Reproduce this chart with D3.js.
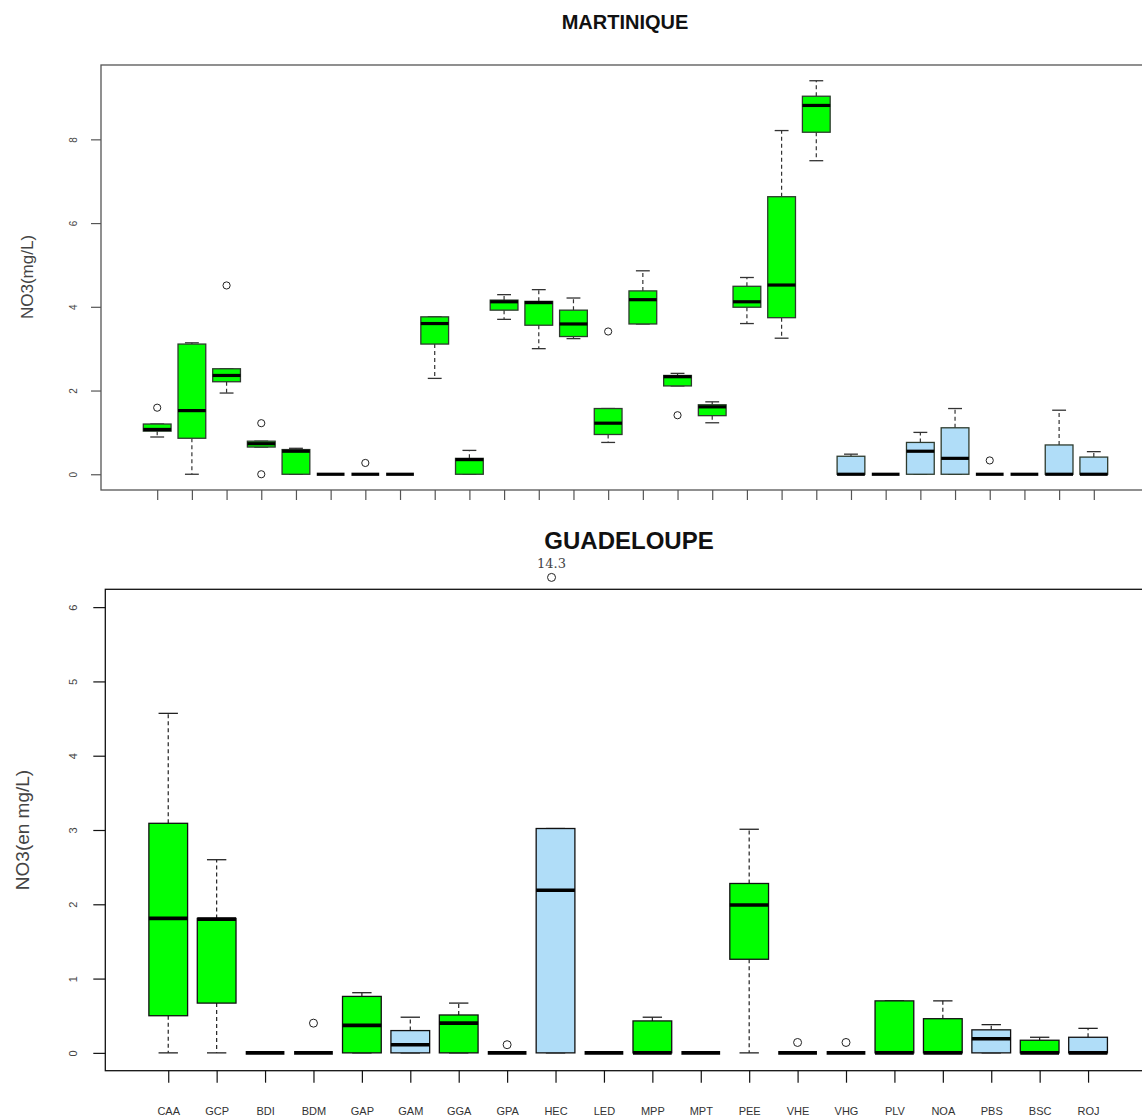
<!DOCTYPE html>
<html>
<head>
<meta charset="utf-8">
<script src="https://cdn.jsdelivr.net/npm/d3@7"></script>
<style>
  html, body { margin: 0; padding: 0; background: #fff; }
  svg { display: block; font-family: "Liberation Sans", Arial, sans-serif; }
</style>
</head>
<body>
<svg id="chart" width="1142" height="1118"></svg>
<script>
// ---------- MARTINIQUE (28 unlabeled stations) ----------
const mqGroup = [1,1,1,1,1,1,1,1,1,1,1,1,1,1,1,1,1,1,1,1,2,2,2,2,2,2,2,2];
const mqLow   = [0.89,0.00,1.94,0.65,0.00,0,0,0,2.29,0.00,3.70,3.00,3.24,0.76,3.59,2.11,1.23,3.60,3.25,7.49,0,0,0,0,0,0,0,0];
const mqQ1    = [1.03,0.86,2.21,0.65,0.00,0,0,0,3.11,0.00,3.92,3.56,3.29,0.95,3.59,2.11,1.40,3.99,3.74,8.17,0,0,0,0,0,0,0,0];
const mqMed   = [1.07,1.52,2.36,0.73,0.55,0,0,0,3.60,0.35,4.12,4.10,3.59,1.22,4.17,2.33,1.61,4.12,4.52,8.81,0,0,0.55,0.38,0,0,0,0];
const mqQ3    = [1.20,3.11,2.52,0.79,0.59,0,0,0,3.76,0.38,4.16,4.13,3.92,1.57,4.38,2.36,1.66,4.49,6.63,9.03,0.43,0,0.76,1.11,0,0,0.70,0.41];
const mqHigh  = [1.20,3.14,2.52,0.79,0.62,0,0,0,3.76,0.57,4.29,4.41,4.21,1.57,4.86,2.41,1.73,4.70,8.21,9.40,0.48,0,1.00,1.57,0,0,1.53,0.54];
const mqOut   = [[1.59],[],[4.51],[1.22,0],[],[],[0.27],[],[],[],[],[],[],[3.41],[],[1.41],[],[],[],[],[],[],[],[],[0.33],[],[],[]];
const mqYTicks = [0,2,4,6,8];

// ---------- GUADELOUPE (20 stations) ----------
const gpCategories = ["CAA","GCP","BDI","BDM","GAP","GAM","GGA","GPA","HEC","LED","MPP","MPT","PEE","VHE","VHG","PLV","NOA","PBS","BSC","ROJ"];
const gpGroup = [1,1,1,1,1,2,1,1,2,1,1,1,1,1,1,1,1,2,1,2];
const gpLow   = [0,0,0,0,0,0,0,0,0,0,0,0,0,0,0,0,0,0,0,0];
const gpQ1    = [0.50,0.67,0,0,0,0,0,0,0,0,0,0,1.26,0,0,0,0,0,0,0];
const gpMed   = [1.81,1.80,0,0,0.37,0.11,0.40,0,2.19,0,0,0,1.99,0,0,0,0,0.19,0,0];
const gpQ3    = [3.09,1.81,0,0,0.76,0.30,0.51,0,3.02,0,0.43,0,2.28,0,0,0.70,0.46,0.31,0.17,0.21];
const gpHigh  = [4.57,2.60,0,0,0.81,0.48,0.67,0,3.02,0,0.48,0,3.01,0,0,0.70,0.70,0.38,0.21,0.33];
const gpOut   = [[],[],[],[0.40],[],[],[],[0.11],[],[],[],[],[],[0.14],[0.14],[],[],[],[],[]];
const gpYLim  = [0, 6];
const gpYTicks = [0,1,2,3,4,5,6];
// off-scale outlier of HEC, drawn at the top of the panel with its value
const gpBigOutlierCat = "HEC";
const gpBigOutlierValue = 14.3;
const gpBigOutlierShownAt = 6.4;

const groupColor = {1: "#00ff00", 2: "#b0ddf8"};

const svg = d3.select("#chart");

function rExtend(lo, hi) { const p = (hi - lo) * 0.04; return [lo - p, hi + p]; }

function drawPanel(cfg) {
  const n = cfg.low.length;
  const g = svg.append("g");
  const x = d3.scaleLinear().domain(rExtend(0.5, n + 0.5)).range([cfg.left, cfg.right]);
  const y = d3.scaleLinear().domain(rExtend(cfg.yDomain[0], cfg.yDomain[1])).range([cfg.bottom, cfg.top]);
  const step = x(2) - x(1);
  const bw = step * 0.8;
  const idx = d3.range(n);

  // boxes
  const box = g.selectAll("g.box").data(idx).join("g").attr("class", "box");
  // whiskers (dashed)
  box.append("line")
    .attr("x1", i => x(i + 1)).attr("x2", i => x(i + 1))
    .attr("y1", i => y(cfg.q3[i])).attr("y2", i => y(cfg.high[i]))
    .attr("stroke", cfg.lineColor).attr("stroke-width", 1.2).attr("stroke-dasharray", "4,3")
    .style("display", i => cfg.high[i] > cfg.q3[i] ? null : "none");
  box.append("line")
    .attr("x1", i => x(i + 1)).attr("x2", i => x(i + 1))
    .attr("y1", i => y(cfg.q1[i])).attr("y2", i => y(cfg.low[i]))
    .attr("stroke", cfg.lineColor).attr("stroke-width", 1.2).attr("stroke-dasharray", "4,3")
    .style("display", i => cfg.low[i] < cfg.q1[i] ? null : "none");
  // staples
  box.append("line")
    .attr("x1", i => x(i + 1) - bw / 4).attr("x2", i => x(i + 1) + bw / 4)
    .attr("y1", i => y(cfg.high[i])).attr("y2", i => y(cfg.high[i]))
    .attr("stroke", cfg.lineColor).attr("stroke-width", 1.3);
  box.append("line")
    .attr("x1", i => x(i + 1) - bw / 4).attr("x2", i => x(i + 1) + bw / 4)
    .attr("y1", i => y(cfg.low[i])).attr("y2", i => y(cfg.low[i]))
    .attr("stroke", cfg.lineColor).attr("stroke-width", 1.3);
  // box rect
  box.append("rect")
    .attr("x", i => x(i + 1) - bw / 2).attr("width", bw)
    .attr("y", i => y(cfg.q3[i])).attr("height", i => y(cfg.q1[i]) - y(cfg.q3[i]))
    .attr("fill", i => groupColor[cfg.group[i]])
    .attr("stroke", cfg.boxStroke).attr("stroke-width", 1.3);
  // median
  box.append("line")
    .attr("x1", i => x(i + 1) - bw / 2).attr("x2", i => x(i + 1) + bw / 2)
    .attr("y1", i => y(cfg.med[i])).attr("y2", i => y(cfg.med[i]))
    .attr("stroke", "#000").attr("stroke-width", cfg.medWidth);
  // outliers
  const outs = [];
  cfg.out.forEach((arr, i) => arr.forEach(v => outs.push({i, v})));
  g.selectAll("circle.out").data(outs).join("circle").attr("class", "out")
    .attr("cx", d => x(d.i + 1)).attr("cy", d => y(d.v)).attr("r", cfg.outR)
    .attr("fill", "#fff").attr("stroke", "#222").attr("stroke-width", 1);

  // frame
  g.append("rect")
    .attr("x", cfg.left).attr("y", cfg.top)
    .attr("width", cfg.right - cfg.left).attr("height", cfg.bottom - cfg.top)
    .attr("fill", "none").attr("stroke", cfg.frameColor).attr("stroke-width", 1.3);

  // y axis
  const ya = g.append("g").attr("transform", `translate(${cfg.left},0)`)
    .call(d3.axisLeft(y).tickValues(cfg.yTicks).tickSize(cfg.tickLen).tickFormat(d3.format("d")));
  ya.select(".domain").remove();
  ya.selectAll(".tick line").attr("stroke", cfg.frameColor).attr("stroke-width", 1.2);
  ya.selectAll(".tick text")
    .attr("x", 0).attr("dy", 0).attr("text-anchor", "middle")
    .attr("transform", `translate(${cfg.yLabelOffset},0) rotate(-90)`)
    .attr("fill", "#444").style("font-size", cfg.yTickFont + "px")
    .style("font-family", "'Liberation Sans', Arial, sans-serif");

  // x axis
  const xa = g.append("g").attr("transform", `translate(0,${cfg.bottom})`)
    .call(d3.axisBottom(x).tickValues(d3.range(1, n + 1)).tickSize(cfg.xTickLen)
      .tickFormat(i => cfg.categories ? cfg.categories[i - 1] : ""));
  xa.select(".domain").remove();
  xa.selectAll(".tick line").attr("stroke", cfg.frameColor).attr("stroke-width", 1.2);
  xa.selectAll(".tick text")
    .attr("y", cfg.xLabelY - cfg.bottom).attr("dy", 0)
    .attr("fill", "#333").style("font-size", "11px")
    .style("font-family", "'Liberation Sans', Arial, sans-serif");

  // title
  svg.append("text").attr("x", cfg.titleX).attr("y", cfg.titleY)
    .attr("text-anchor", "middle").attr("font-weight", "bold")
    .style("font-size", cfg.titleSize + "px").attr("fill", "#111").text(cfg.title);
  // y label
  svg.append("text")
    .attr("transform", `translate(${cfg.yTitleX},${cfg.yTitleY}) rotate(-90)`)
    .attr("text-anchor", "middle").style("font-size", cfg.yTitleSize + "px")
    .attr("fill", "#444").text(cfg.yTitle);

  return {x, y};
}

drawPanel({
  low: mqLow, q1: mqQ1, med: mqMed, q3: mqQ3, high: mqHigh, out: mqOut, group: mqGroup,
  categories: null,
  yDomain: [d3.min(mqLow.concat(mqOut.flat())), d3.max(mqHigh.concat(mqOut.flat()))],
  yTicks: mqYTicks,
  left: 101, right: 1150, top: 65, bottom: 490,
  lineColor: "#333", boxStroke: "#2e3b2e", frameColor: "#555", medWidth: 3.2, outR: 3.6,
  tickLen: 10, xTickLen: 10, yLabelOffset: -24, yTickFont: 10, xLabelY: 0,
  title: "MARTINIQUE", titleX: 625, titleY: 29, titleSize: 20,
  yTitle: "NO3(mg/L)", yTitleX: 33, yTitleY: 277, yTitleSize: 17
});

const gp = drawPanel({
  low: gpLow, q1: gpQ1, med: gpMed, q3: gpQ3, high: gpHigh, out: gpOut, group: gpGroup,
  categories: gpCategories,
  yDomain: gpYLim,
  yTicks: gpYTicks,
  left: 105.3, right: 1151, top: 589.3, bottom: 1070.7,
  lineColor: "#222", boxStroke: "#111", frameColor: "#111", medWidth: 3.6, outR: 4,
  tickLen: 12, xTickLen: 12, yLabelOffset: -28, yTickFont: 11, xLabelY: 1115,
  title: "GUADELOUPE", titleX: 629, titleY: 549, titleSize: 24,
  yTitle: "NO3(en mg/L)", yTitleX: 29, yTitleY: 830, yTitleSize: 19
});

// off-scale HEC outlier with its value written above
const bigI = gpCategories.indexOf(gpBigOutlierCat) + 1;
svg.append("circle")
  .attr("cx", gp.x(bigI) - 4).attr("cy", gp.y(gpBigOutlierShownAt)).attr("r", 4)
  .attr("fill", "#fff").attr("stroke", "#222").attr("stroke-width", 1);
svg.append("text")
  .attr("x", gp.x(bigI) - 4).attr("y", gp.y(gpBigOutlierShownAt) - 9)
  .attr("text-anchor", "middle").style("font-family", "'DejaVu Serif', serif")
  .style("font-size", "13px").attr("fill", "#444").text(String(gpBigOutlierValue));
</script>
</body>
</html>
